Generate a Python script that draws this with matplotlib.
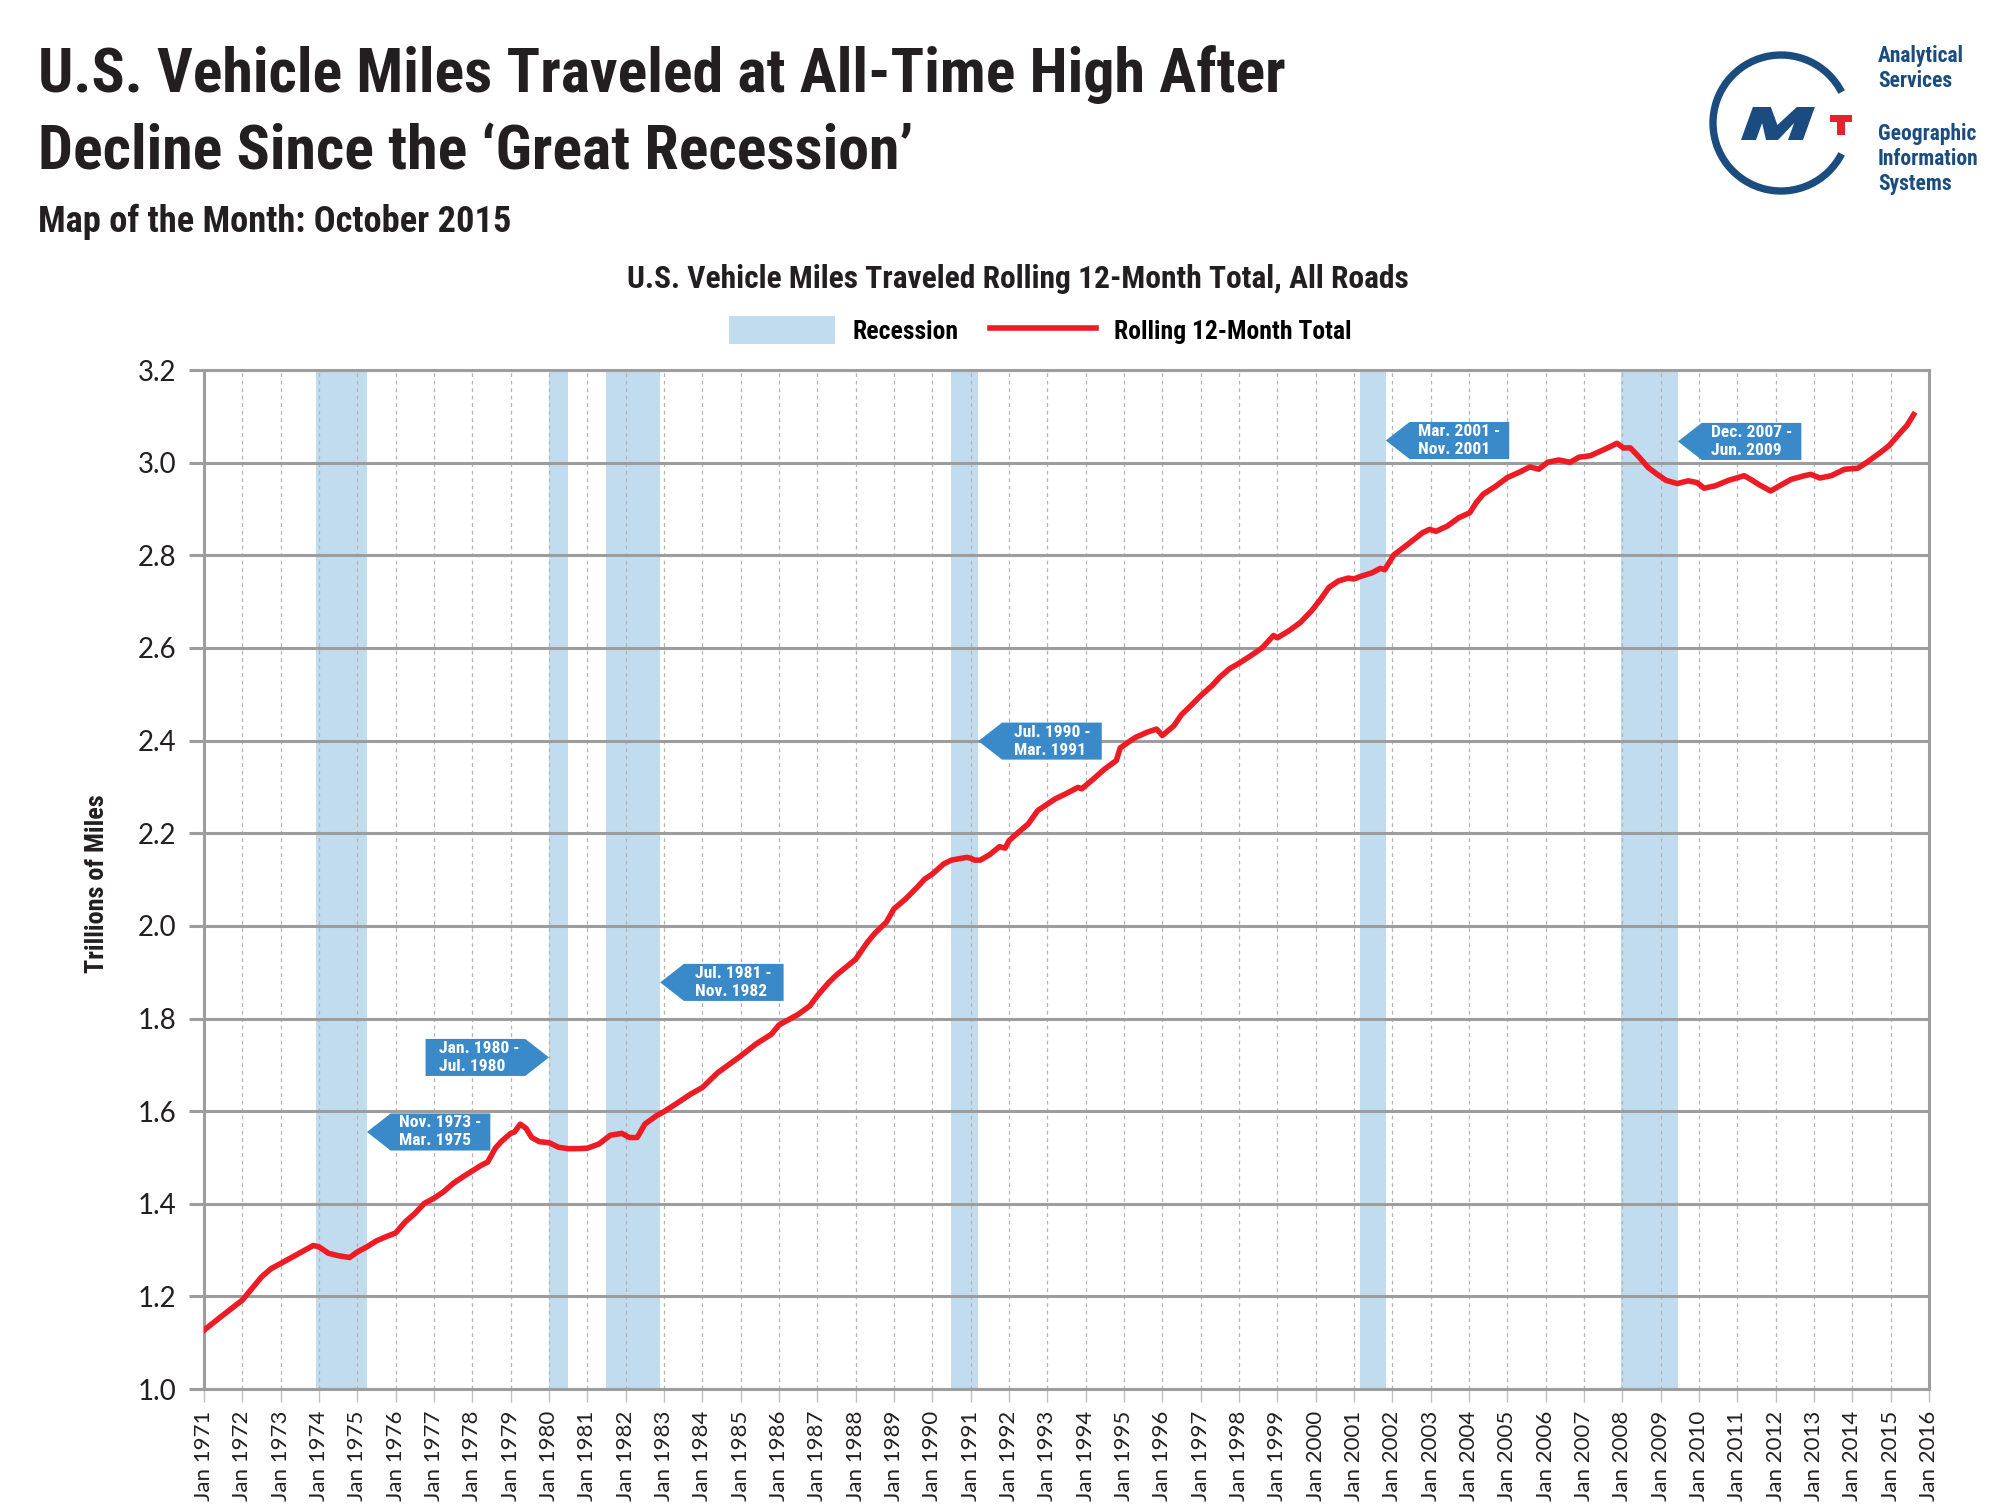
import matplotlib.pyplot as plt
from matplotlib.patches import Polygon, Arc

# rolling 12-month total of U.S. vehicle miles travelled (trillions)
months = [1971.0, 1971.5, 1972.0, 1972.25, 1972.5, 1972.75, 1973.0, 1973.5, 1973.85, 1974.0,
          1974.25, 1974.5, 1974.8, 1975.0, 1975.25, 1975.5, 1975.75, 1976.0, 1976.25, 1976.5,
          1976.75, 1977.0, 1977.25, 1977.5, 1977.75, 1978.0, 1978.25, 1978.4, 1978.6, 1978.75,
          1979.0, 1979.1, 1979.25, 1979.4, 1979.55, 1979.75, 1980.0, 1980.25, 1980.5, 1980.75,
          1981.0, 1981.3, 1981.6, 1981.9, 1982.1, 1982.3, 1982.5, 1982.8, 1983.0, 1983.3,
          1983.7, 1984.0, 1984.4, 1984.8, 1985.0, 1985.4, 1985.8, 1986.0, 1986.5, 1986.8,
          1987.0, 1987.3, 1987.5, 1988.0, 1988.3, 1988.5, 1988.8, 1989.0, 1989.3, 1989.6,
          1989.8, 1990.0, 1990.3, 1990.5, 1990.9, 1991.0, 1991.1, 1991.25, 1991.5, 1991.75,
          1991.9, 1992.0, 1992.3, 1992.5, 1992.75, 1993.0, 1993.2, 1993.5, 1993.8, 1993.9,
          1994.2, 1994.5, 1994.8, 1994.9, 1995.1, 1995.3, 1995.6, 1995.85, 1996.0, 1996.3,
          1996.5, 1996.75, 1997.0, 1997.3, 1997.5, 1997.75, 1998.0, 1998.3, 1998.6, 1998.9,
          1999.0, 1999.3, 1999.6, 1999.9, 2000.1, 2000.35, 2000.6, 2000.85, 2001.0, 2001.15,
          2001.46, 2001.69, 2001.8, 2002.04, 2002.39, 2002.79, 2002.97, 2003.14, 2003.43, 2003.73,
          2004.02, 2004.19, 2004.37, 2004.71, 2005.0, 2005.3, 2005.59, 2005.82, 2006.05, 2006.34,
          2006.64, 2006.87, 2007.16, 2007.51, 2007.74, 2007.86, 2008.03, 2008.21, 2008.44, 2008.67,
          2008.91, 2009.14, 2009.43, 2009.72, 2009.95, 2010.13, 2010.42, 2010.77, 2011.18, 2011.35,
          2011.58, 2011.87, 2012.1, 2012.4, 2012.75, 2012.92, 2013.15, 2013.45, 2013.8, 2014.14,
          2014.38, 2014.73, 2014.96, 2015.19, 2015.42, 2015.6]
vmt = [1.127, 1.160, 1.192, 1.217, 1.242, 1.260, 1.271, 1.294, 1.310, 1.307,
       1.293, 1.288, 1.284, 1.296, 1.307, 1.320, 1.329, 1.337, 1.361, 1.379,
       1.401, 1.412, 1.426, 1.444, 1.458, 1.471, 1.484, 1.490, 1.520, 1.534,
       1.552, 1.555, 1.572, 1.563, 1.543, 1.534, 1.532, 1.522, 1.519, 1.519,
       1.520, 1.529, 1.548, 1.552, 1.543, 1.543, 1.572, 1.590, 1.599, 1.615,
       1.637, 1.651, 1.683, 1.707, 1.719, 1.745, 1.766, 1.786, 1.809, 1.827,
       1.849, 1.878, 1.894, 1.928, 1.964, 1.984, 2.008, 2.037, 2.058, 2.083,
       2.101, 2.112, 2.134, 2.142, 2.148, 2.146, 2.142, 2.142, 2.154, 2.171,
       2.168, 2.184, 2.206, 2.220, 2.249, 2.263, 2.274, 2.286, 2.299, 2.296,
       2.317, 2.339, 2.357, 2.384, 2.396, 2.407, 2.418, 2.425, 2.411, 2.432,
       2.456, 2.476, 2.497, 2.519, 2.537, 2.555, 2.567, 2.583, 2.600, 2.627,
       2.622, 2.637, 2.655, 2.681, 2.702, 2.731, 2.745, 2.751, 2.749, 2.754,
       2.762, 2.772, 2.769, 2.801, 2.823, 2.849, 2.856, 2.852, 2.863, 2.881,
       2.892, 2.914, 2.932, 2.950, 2.968, 2.979, 2.991, 2.986, 3.001, 3.006,
       3.001, 3.012, 3.015, 3.028, 3.037, 3.042, 3.032, 3.032, 3.012, 2.990,
       2.975, 2.962, 2.955, 2.961, 2.957, 2.945, 2.950, 2.962, 2.972, 2.964,
       2.952, 2.939, 2.950, 2.964, 2.972, 2.975, 2.967, 2.972, 2.986, 2.988,
       3.001, 3.022, 3.037, 3.059, 3.080, 3.104]

# recessions (decimal years) and their callout labels
rec_start = [1973.92, 1980.0, 1981.5, 1990.5, 2001.15, 2007.96]
rec_end = [1975.25, 1980.5, 1982.9, 1991.2, 2001.83, 2009.45]
rec_labels = ['Nov. 1973 -\nMar. 1975', 'Jan. 1980 -\nJul. 1980', 'Jul. 1981 -\nNov. 1982',
              'Jul. 1990 -\nMar. 1991', 'Mar. 2001 -\nNov. 2001', 'Dec. 2007 -\nJun. 2009']
# callout placement: height on the y axis and which way the arrow points
call_y = [1.555, 1.716, 1.878, 2.399, 3.048, 3.046]
call_dir = ['left', 'right', 'left', 'left', 'left', 'left']

year_ticks = list(range(1971, 2017))
y_ticks = [1.0, 1.2, 1.4, 1.6, 1.8, 2.0, 2.2, 2.4, 2.6, 2.8, 3.0, 3.2]

TITLE1 = 'U.S. Vehicle Miles Traveled at All-Time High After'
TITLE2 = 'Decline Since the \u2018Great Recession\u2019'

RED = '#ed1c24'
BAND = '#c2dcef'
BOX = '#3a89c9'
GRID = '#9d9d9d'
INK = '#231f20'
LOGO = '#1a4c80'
TICKFONT = ['Lato', 'DejaVu Sans']

plt.rcParams['font.family'] = ['Roboto Condensed', 'Archivo Narrow', 'DejaVu Sans']

fig = plt.figure(figsize=(20, 15.1), dpi=100)

# scale the condensed bold sizes so the headline has the reference width (1248 px)
probe = fig.text(0, 0, TITLE1, fontsize=46, fontweight='bold')
fig.canvas.draw()
k = 1248 / probe.get_window_extent(fig.canvas.get_renderer()).width
probe.remove()

ax = fig.add_axes([0.102, 0.0801, 0.8625, 0.6748])

spans = []
for s, e in zip(rec_start, rec_end):
    spans.append(ax.axvspan(s, e, color=BAND, lw=0, zorder=0.2))
line, = ax.plot(months, vmt, color=RED, lw=4.0, zorder=3, solid_joinstyle='round')

ax.set_xlim(1971, 2016)
ax.set_ylim(1.0, 3.2)
ax.set_axisbelow(True)
ax.set_xticks(year_ticks)
ax.set_xticklabels(['Jan %d' % y for y in year_ticks], rotation=90, fontsize=16,
                   family=TICKFONT, fontweight='normal', color=INK)
ax.set_yticks(y_ticks)
ax.set_yticklabels(['%.1f' % v for v in y_ticks], fontsize=20, family=TICKFONT,
                   fontweight='normal', color=INK)
ax.yaxis.grid(True, color=GRID, lw=2.2)
ax.xaxis.grid(True, color='#b4b4b4', lw=0.9, linestyle=(0, (3, 3)))
ax.tick_params(axis='y', length=10.8, width=2.2, color=GRID, pad=9)
ax.tick_params(axis='x', length=9.4, width=1.0, color='#c0c0c0', pad=6)
for sp in ax.spines.values():
    sp.set_color(GRID)
    sp.set_linewidth(2.2)

# callout boxes with an arrow pointing at the recession band
w, tip, h = 3.22, 0.62, 0.08
for lab, yc, d, s, e in zip(rec_labels, call_y, call_dir, rec_start, rec_end):
    if d == 'left':
        x0 = e
        pts = [(x0, yc), (x0 + tip, yc + h / 2), (x0 + w, yc + h / 2),
               (x0 + w, yc - h / 2), (x0 + tip, yc - h / 2)]
        xc = x0 + tip + (w - tip) / 2
    else:
        x0 = s
        pts = [(x0, yc), (x0 - tip, yc + h / 2), (x0 - w, yc + h / 2),
               (x0 - w, yc - h / 2), (x0 - tip, yc - h / 2)]
        xc = x0 - w + (w - tip) / 2 + 0.1
    ax.add_patch(Polygon(pts, closed=True, color=BOX, lw=0, zorder=4))
    ax.text(xc, yc, lab, ha='center', va='center', multialignment='left', color='white',
            fontsize=13 * k, fontweight='bold', linespacing=1.25, zorder=5)

fs_leg = 19 * k
fig.legend([spans[0], line], ['Recession', 'Rolling 12-Month Total'], loc='center',
           bbox_to_anchor=(1040 / 2000, 1 - 330 / 1510), bbox_transform=fig.transFigure,
           ncol=2, frameon=False, handlelength=106 / (fs_leg / 0.72),
           handleheight=32 / (fs_leg / 0.72), handletextpad=18 / (fs_leg / 0.72),
           columnspacing=31 / (fs_leg / 0.72), prop={'weight': 'bold', 'size': fs_leg})

# page layer in pixel coordinates for the headings and logo
page = fig.add_axes([0, 0, 1, 1], zorder=5)
page.set_xlim(0, 2000)
page.set_ylim(1510, 0)
page.axis('off')

page.text(38, 92, TITLE1, fontsize=46 * k, fontweight='bold', color=INK, va='baseline')
page.text(38, 170, TITLE2, fontsize=46 * k, fontweight='bold', color=INK, va='baseline')
page.text(38, 232, 'Map of the Month: October 2015', fontsize=27 * k, fontweight='bold',
          color=INK, va='baseline')
page.text(1018, 288, 'U.S. Vehicle Miles Traveled Rolling 12-Month Total, All Roads',
          fontsize=23.4 * k, fontweight='bold', color=INK, va='baseline', ha='center')
page.text(97, 884, 'Trillions of Miles', fontsize=19.5 * k, fontweight='bold', color=INK,
          rotation=90, ha='center', va='center')

# logo
page.add_patch(Arc((1781, 123), 136, 136, theta1=27, theta2=333, color=LOGO, lw=5.3))
m_pts = [(0, 0), (0, 33), (18, 33), (31, 15), (44, 33), (62, 33), (62, 0), (47, 0),
         (47, 17), (37, 0), (25, 0), (15, 17), (15, 0)]
page.add_patch(Polygon([(1741 + x + 0.36 * y, 140 - y) for x, y in m_pts], closed=True,
                       color=LOGO, lw=0))
t_pts = [(1830, 115), (1852, 115), (1852, 122), (1845, 122), (1845, 135), (1837, 135),
         (1837, 122), (1830, 122)]
page.add_patch(Polygon(t_pts, closed=True, color='#e8212e', lw=0))
for txt, yb in [('Analytical', 62), ('Services', 87), ('Geographic', 140),
                ('Information', 165), ('Systems', 190)]:
    page.text(1878, yb, txt, fontsize=16 * k, fontweight='bold', color=LOGO, va='baseline')

fig.savefig('out.png', dpi=100, facecolor='white')
